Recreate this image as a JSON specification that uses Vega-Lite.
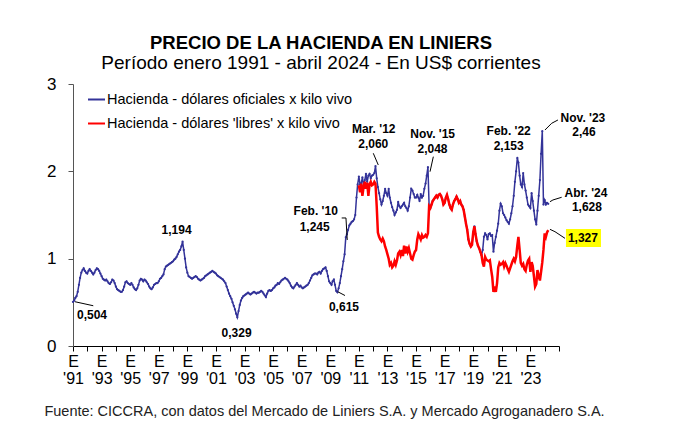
{
  "$schema": "https://vega.github.io/schema/vega-lite/v6.json",
  "autosize": "none",
  "width": 486,
  "height": 262,
  "padding": {"left": 73, "top": 84, "right": 124, "bottom": 88},
  "background": "white",
  "config": {"view": {"stroke": null}, "font": "Liberation Sans"},
  "title": {
    "text": "PRECIO DE LA HACIENDA EN LINIERS",
    "subtitle": "Período enero 1991 - abril 2024 - En US$ corrientes",
    "font": "Liberation Sans", "fontSize": 18.5, "fontWeight": "bold", "color": "#000",
    "subtitleFont": "Liberation Sans", "subtitleFontSize": 19, "subtitleColor": "#000",
    "anchor": "middle", "offset": 2, "subtitlePadding": 2, "dx": 5
  },
  "datasets": {
    "oficial": [
      {"d":"1991-01-01","v":0.504},{"d":"1991-02-01","v":0.52},{"d":"1991-03-01","v":0.55},{"d":"1991-04-01","v":0.57},{"d":"1991-05-01","v":0.62},{"d":"1991-06-01","v":0.70},{"d":"1991-07-01","v":0.78},{"d":"1991-08-01","v":0.84},{"d":"1991-09-01","v":0.87},{"d":"1991-10-01","v":0.89},{"d":"1991-11-01","v":0.86},{"d":"1991-12-01","v":0.84},
      {"d":"1992-01-01","v":0.83},{"d":"1992-02-01","v":0.86},{"d":"1992-03-01","v":0.88},{"d":"1992-04-01","v":0.86},{"d":"1992-05-01","v":0.84},{"d":"1992-06-01","v":0.82},{"d":"1992-07-01","v":0.84},{"d":"1992-08-01","v":0.87},{"d":"1992-09-01","v":0.89},{"d":"1992-10-01","v":0.88},{"d":"1992-11-01","v":0.86},{"d":"1992-12-01","v":0.83},
      {"d":"1993-01-01","v":0.80},{"d":"1993-02-01","v":0.77},{"d":"1993-03-01","v":0.76},{"d":"1993-04-01","v":0.75},{"d":"1993-05-01","v":0.76},{"d":"1993-06-01","v":0.74},{"d":"1993-07-01","v":0.72},{"d":"1993-08-01","v":0.71},{"d":"1993-09-01","v":0.73},{"d":"1993-10-01","v":0.76},{"d":"1993-11-01","v":0.75},{"d":"1993-12-01","v":0.72},
      {"d":"1994-01-01","v":0.68},{"d":"1994-02-01","v":0.65},{"d":"1994-03-01","v":0.64},{"d":"1994-04-01","v":0.63},{"d":"1994-05-01","v":0.62},{"d":"1994-06-01","v":0.62},{"d":"1994-07-01","v":0.64},{"d":"1994-08-01","v":0.68},{"d":"1994-09-01","v":0.73},{"d":"1994-10-01","v":0.74},{"d":"1994-11-01","v":0.72},{"d":"1994-12-01","v":0.71},
      {"d":"1995-01-01","v":0.70},{"d":"1995-02-01","v":0.72},{"d":"1995-03-01","v":0.70},{"d":"1995-04-01","v":0.67},{"d":"1995-05-01","v":0.65},{"d":"1995-06-01","v":0.64},{"d":"1995-07-01","v":0.66},{"d":"1995-08-01","v":0.70},{"d":"1995-09-01","v":0.75},{"d":"1995-10-01","v":0.77},{"d":"1995-11-01","v":0.76},{"d":"1995-12-01","v":0.74},
      {"d":"1996-01-01","v":0.76},{"d":"1996-02-01","v":0.75},{"d":"1996-03-01","v":0.73},{"d":"1996-04-01","v":0.71},{"d":"1996-05-01","v":0.68},{"d":"1996-06-01","v":0.66},{"d":"1996-07-01","v":0.65},{"d":"1996-08-01","v":0.67},{"d":"1996-09-01","v":0.70},{"d":"1996-10-01","v":0.71},{"d":"1996-11-01","v":0.72},{"d":"1996-12-01","v":0.72},
      {"d":"1997-01-01","v":0.74},{"d":"1997-02-01","v":0.77},{"d":"1997-03-01","v":0.78},{"d":"1997-04-01","v":0.80},{"d":"1997-05-01","v":0.82},{"d":"1997-06-01","v":0.88},{"d":"1997-07-01","v":0.91},{"d":"1997-08-01","v":0.92},{"d":"1997-09-01","v":0.93},{"d":"1997-10-01","v":0.94},{"d":"1997-11-01","v":0.95},{"d":"1997-12-01","v":0.96},
      {"d":"1998-01-01","v":0.97},{"d":"1998-02-01","v":0.99},{"d":"1998-03-01","v":1.00},{"d":"1998-04-01","v":1.02},{"d":"1998-05-01","v":1.05},{"d":"1998-06-01","v":1.08},{"d":"1998-07-01","v":1.10},{"d":"1998-08-01","v":1.14},{"d":"1998-09-01","v":1.194},{"d":"1998-10-01","v":1.10},{"d":"1998-11-01","v":1.00},{"d":"1998-12-01","v":0.90},
      {"d":"1999-01-01","v":0.84},{"d":"1999-02-01","v":0.80},{"d":"1999-03-01","v":0.79},{"d":"1999-04-01","v":0.78},{"d":"1999-05-01","v":0.77},{"d":"1999-06-01","v":0.78},{"d":"1999-07-01","v":0.79},{"d":"1999-08-01","v":0.80},{"d":"1999-09-01","v":0.79},{"d":"1999-10-01","v":0.77},{"d":"1999-11-01","v":0.76},{"d":"1999-12-01","v":0.75},
      {"d":"2000-01-01","v":0.76},{"d":"2000-02-01","v":0.77},{"d":"2000-03-01","v":0.78},{"d":"2000-04-01","v":0.80},{"d":"2000-05-01","v":0.81},{"d":"2000-06-01","v":0.82},{"d":"2000-07-01","v":0.83},{"d":"2000-08-01","v":0.84},{"d":"2000-09-01","v":0.85},{"d":"2000-10-01","v":0.86},{"d":"2000-11-01","v":0.85},{"d":"2000-12-01","v":0.84},
      {"d":"2001-01-01","v":0.83},{"d":"2001-02-01","v":0.81},{"d":"2001-03-01","v":0.80},{"d":"2001-04-01","v":0.79},{"d":"2001-05-01","v":0.78},{"d":"2001-06-01","v":0.77},{"d":"2001-07-01","v":0.76},{"d":"2001-08-01","v":0.74},{"d":"2001-09-01","v":0.72},{"d":"2001-10-01","v":0.68},{"d":"2001-11-01","v":0.64},{"d":"2001-12-01","v":0.60},
      {"d":"2002-01-01","v":0.57},{"d":"2002-02-01","v":0.54},{"d":"2002-03-01","v":0.50},{"d":"2002-04-01","v":0.46},{"d":"2002-05-01","v":0.42},{"d":"2002-06-01","v":0.37},{"d":"2002-07-01","v":0.329},{"d":"2002-08-01","v":0.40},{"d":"2002-09-01","v":0.47},{"d":"2002-10-01","v":0.52},{"d":"2002-11-01","v":0.55},{"d":"2002-12-01","v":0.57},
      {"d":"2003-01-01","v":0.58},{"d":"2003-02-01","v":0.59},{"d":"2003-03-01","v":0.60},{"d":"2003-04-01","v":0.61},{"d":"2003-05-01","v":0.60},{"d":"2003-06-01","v":0.59},{"d":"2003-07-01","v":0.60},{"d":"2003-08-01","v":0.61},{"d":"2003-09-01","v":0.62},{"d":"2003-10-01","v":0.61},{"d":"2003-11-01","v":0.60},{"d":"2003-12-01","v":0.61},
      {"d":"2004-01-01","v":0.61},{"d":"2004-02-01","v":0.62},{"d":"2004-03-01","v":0.63},{"d":"2004-04-01","v":0.62},{"d":"2004-05-01","v":0.60},{"d":"2004-06-01","v":0.58},{"d":"2004-07-01","v":0.56},{"d":"2004-08-01","v":0.60},{"d":"2004-09-01","v":0.63},{"d":"2004-10-01","v":0.64},{"d":"2004-11-01","v":0.63},{"d":"2004-12-01","v":0.64},
      {"d":"2005-01-01","v":0.66},{"d":"2005-02-01","v":0.67},{"d":"2005-03-01","v":0.69},{"d":"2005-04-01","v":0.70},{"d":"2005-05-01","v":0.72},{"d":"2005-06-01","v":0.71},{"d":"2005-07-01","v":0.73},{"d":"2005-08-01","v":0.75},{"d":"2005-09-01","v":0.76},{"d":"2005-10-01","v":0.77},{"d":"2005-11-01","v":0.78},{"d":"2005-12-01","v":0.77},
      {"d":"2006-01-01","v":0.76},{"d":"2006-02-01","v":0.74},{"d":"2006-03-01","v":0.72},{"d":"2006-04-01","v":0.69},{"d":"2006-05-01","v":0.67},{"d":"2006-06-01","v":0.66},{"d":"2006-07-01","v":0.68},{"d":"2006-08-01","v":0.70},{"d":"2006-09-01","v":0.72},{"d":"2006-10-01","v":0.70},{"d":"2006-11-01","v":0.68},{"d":"2006-12-01","v":0.69},
      {"d":"2007-01-01","v":0.67},{"d":"2007-02-01","v":0.66},{"d":"2007-03-01","v":0.67},{"d":"2007-04-01","v":0.68},{"d":"2007-05-01","v":0.69},{"d":"2007-06-01","v":0.70},{"d":"2007-07-01","v":0.72},{"d":"2007-08-01","v":0.75},{"d":"2007-09-01","v":0.78},{"d":"2007-10-01","v":0.81},{"d":"2007-11-01","v":0.82},{"d":"2007-12-01","v":0.83},
      {"d":"2008-01-01","v":0.83},{"d":"2008-02-01","v":0.82},{"d":"2008-03-01","v":0.84},{"d":"2008-04-01","v":0.85},{"d":"2008-05-01","v":0.83},{"d":"2008-06-01","v":0.86},{"d":"2008-07-01","v":0.88},{"d":"2008-08-01","v":0.89},{"d":"2008-09-01","v":0.90},{"d":"2008-10-01","v":0.86},{"d":"2008-11-01","v":0.80},{"d":"2008-12-01","v":0.74},
      {"d":"2009-01-01","v":0.72},{"d":"2009-02-01","v":0.70},{"d":"2009-03-01","v":0.74},{"d":"2009-04-01","v":0.76},{"d":"2009-05-01","v":0.70},{"d":"2009-06-01","v":0.63},{"d":"2009-07-01","v":0.615},{"d":"2009-08-01","v":0.66},{"d":"2009-09-01","v":0.72},{"d":"2009-10-01","v":0.80},{"d":"2009-11-01","v":0.88},{"d":"2009-12-01","v":0.97},
      {"d":"2010-01-01","v":1.05},{"d":"2010-02-01","v":1.245},{"d":"2010-03-01","v":1.28},{"d":"2010-04-01","v":1.33},{"d":"2010-05-01","v":1.38},{"d":"2010-06-01","v":1.40},{"d":"2010-07-01","v":1.42},{"d":"2010-08-01","v":1.43},{"d":"2010-09-01","v":1.45},{"d":"2010-10-01","v":1.50},{"d":"2010-11-01","v":1.70},{"d":"2010-12-01","v":1.85},
      {"d":"2011-01-01","v":1.94},{"d":"2011-02-01","v":1.85},{"d":"2011-03-01","v":1.86},{"d":"2011-04-01","v":1.93},{"d":"2011-05-01","v":1.84},{"d":"2011-06-01","v":1.90},{"d":"2011-07-01","v":1.97},{"d":"2011-08-01","v":1.88},{"d":"2011-09-01","v":1.95},{"d":"2011-10-01","v":1.97},{"d":"2011-11-01","v":1.92},{"d":"2011-12-01","v":1.95},
      {"d":"2012-01-01","v":1.96},{"d":"2012-02-01","v":1.98},{"d":"2012-03-01","v":2.06},{"d":"2012-04-01","v":1.92},{"d":"2012-05-01","v":1.82},{"d":"2012-06-01","v":1.75},{"d":"2012-07-01","v":1.68},{"d":"2012-08-01","v":1.62},{"d":"2012-09-01","v":1.66},{"d":"2012-10-01","v":1.72},{"d":"2012-11-01","v":1.80},{"d":"2012-12-01","v":1.75},
      {"d":"2013-01-01","v":1.72},{"d":"2013-02-01","v":1.80},{"d":"2013-03-01","v":1.70},{"d":"2013-04-01","v":1.64},{"d":"2013-05-01","v":1.59},{"d":"2013-06-01","v":1.55},{"d":"2013-07-01","v":1.50},{"d":"2013-08-01","v":1.53},{"d":"2013-09-01","v":1.56},{"d":"2013-10-01","v":1.65},{"d":"2013-11-01","v":1.60},{"d":"2013-12-01","v":1.58},
      {"d":"2014-01-01","v":1.60},{"d":"2014-02-01","v":1.62},{"d":"2014-03-01","v":1.64},{"d":"2014-04-01","v":1.60},{"d":"2014-05-01","v":1.58},{"d":"2014-06-01","v":1.55},{"d":"2014-07-01","v":1.60},{"d":"2014-08-01","v":1.70},{"d":"2014-09-01","v":1.80},{"d":"2014-10-01","v":1.78},{"d":"2014-11-01","v":1.74},{"d":"2014-12-01","v":1.70},
      {"d":"2015-01-01","v":1.70},{"d":"2015-02-01","v":1.73},{"d":"2015-03-01","v":1.70},{"d":"2015-04-01","v":1.66},{"d":"2015-05-01","v":1.74},{"d":"2015-06-01","v":1.70},{"d":"2015-07-01","v":1.72},{"d":"2015-08-01","v":1.80},{"d":"2015-09-01","v":1.86},{"d":"2015-10-01","v":1.95},{"d":"2015-11-01","v":2.048},{"d":"2015-12-01","v":1.60},
      {"d":"2016-01-01","v":1.58},{"d":"2016-02-01","v":1.62},{"d":"2016-03-01","v":1.66},{"d":"2016-04-01","v":1.68},{"d":"2016-05-01","v":1.70},{"d":"2016-06-01","v":1.72},{"d":"2016-07-01","v":1.70},{"d":"2016-08-01","v":1.73},{"d":"2016-09-01","v":1.74},{"d":"2016-10-01","v":1.72},{"d":"2016-11-01","v":1.68},{"d":"2016-12-01","v":1.62},
      {"d":"2017-01-01","v":1.64},{"d":"2017-02-01","v":1.70},{"d":"2017-03-01","v":1.73},{"d":"2017-04-01","v":1.68},{"d":"2017-05-01","v":1.62},{"d":"2017-06-01","v":1.58},{"d":"2017-07-01","v":1.56},{"d":"2017-08-01","v":1.62},{"d":"2017-09-01","v":1.66},{"d":"2017-10-01","v":1.68},{"d":"2017-11-01","v":1.71},{"d":"2017-12-01","v":1.68},
      {"d":"2018-01-01","v":1.64},{"d":"2018-02-01","v":1.66},{"d":"2018-03-01","v":1.62},{"d":"2018-04-01","v":1.60},{"d":"2018-05-01","v":1.56},{"d":"2018-06-01","v":1.48},{"d":"2018-07-01","v":1.40},{"d":"2018-08-01","v":1.33},{"d":"2018-09-01","v":1.22},{"d":"2018-10-01","v":1.17},{"d":"2018-11-01","v":1.14},{"d":"2018-12-01","v":1.16},
      {"d":"2019-01-01","v":1.30},{"d":"2019-02-01","v":1.37},{"d":"2019-03-01","v":1.28},{"d":"2019-04-01","v":1.20},{"d":"2019-05-01","v":1.15},{"d":"2019-06-01","v":1.12},{"d":"2019-07-01","v":1.08},{"d":"2019-08-01","v":1.04},{"d":"2019-09-01","v":1.10},{"d":"2019-10-01","v":1.25},{"d":"2019-11-01","v":1.29},{"d":"2019-12-01","v":1.27},
      {"d":"2020-01-01","v":1.22},{"d":"2020-02-01","v":1.28},{"d":"2020-03-01","v":1.29},{"d":"2020-04-01","v":1.26},{"d":"2020-05-01","v":1.27},{"d":"2020-06-01","v":1.08},{"d":"2020-07-01","v":1.18},{"d":"2020-08-01","v":1.25},{"d":"2020-09-01","v":1.32},{"d":"2020-10-01","v":1.40},{"d":"2020-11-01","v":1.55},{"d":"2020-12-01","v":1.63},
      {"d":"2021-01-01","v":1.60},{"d":"2021-02-01","v":1.52},{"d":"2021-03-01","v":1.50},{"d":"2021-04-01","v":1.47},{"d":"2021-05-01","v":1.44},{"d":"2021-06-01","v":1.42},{"d":"2021-07-01","v":1.40},{"d":"2021-08-01","v":1.45},{"d":"2021-09-01","v":1.52},{"d":"2021-10-01","v":1.60},{"d":"2021-11-01","v":1.72},{"d":"2021-12-01","v":1.88},
      {"d":"2022-01-01","v":2.00},{"d":"2022-02-01","v":2.153},{"d":"2022-03-01","v":2.10},{"d":"2022-04-01","v":1.95},{"d":"2022-05-01","v":1.85},{"d":"2022-06-01","v":1.82},{"d":"2022-07-01","v":1.98},{"d":"2022-08-01","v":1.85},{"d":"2022-09-01","v":1.78},{"d":"2022-10-01","v":1.70},{"d":"2022-11-01","v":1.62},{"d":"2022-12-01","v":1.60},
      {"d":"2023-01-01","v":1.58},{"d":"2023-02-01","v":1.75},{"d":"2023-03-01","v":1.66},{"d":"2023-04-01","v":1.55},{"d":"2023-05-01","v":1.45},{"d":"2023-06-01","v":1.39},{"d":"2023-07-01","v":1.55},{"d":"2023-08-01","v":1.72},{"d":"2023-09-01","v":1.90},{"d":"2023-10-01","v":2.20},{"d":"2023-11-01","v":2.46},{"d":"2023-12-01","v":1.62},
      {"d":"2024-01-01","v":1.67},{"d":"2024-02-01","v":1.62},{"d":"2024-03-01","v":1.64},{"d":"2024-04-01","v":1.628}
    ],
    "libre": [
      {"d":"2011-01-01","v":1.84},{"d":"2011-02-01","v":1.76},{"d":"2011-03-01","v":1.86},{"d":"2011-04-01","v":1.72},{"d":"2011-05-01","v":1.82},{"d":"2011-06-01","v":1.88},{"d":"2011-07-01","v":1.80},{"d":"2011-08-01","v":1.87},{"d":"2011-09-01","v":1.72},{"d":"2011-10-01","v":1.85},{"d":"2011-11-01","v":1.88},{"d":"2011-12-01","v":1.84},
      {"d":"2012-01-01","v":1.85},{"d":"2012-02-01","v":1.88},{"d":"2012-03-01","v":1.86},{"d":"2012-04-01","v":1.60},{"d":"2012-05-01","v":1.30},{"d":"2012-06-01","v":1.25},{"d":"2012-07-01","v":1.22},{"d":"2012-08-01","v":1.20},{"d":"2012-09-01","v":1.23},{"d":"2012-10-01","v":1.20},{"d":"2012-11-01","v":1.14},{"d":"2012-12-01","v":1.10},
      {"d":"2013-01-01","v":1.05},{"d":"2013-02-01","v":1.00},{"d":"2013-03-01","v":0.93},{"d":"2013-04-01","v":0.95},{"d":"2013-05-01","v":0.90},{"d":"2013-06-01","v":0.92},{"d":"2013-07-01","v":0.97},{"d":"2013-08-01","v":0.93},{"d":"2013-09-01","v":0.98},{"d":"2013-10-01","v":1.06},{"d":"2013-11-01","v":1.08},{"d":"2013-12-01","v":1.04},
      {"d":"2014-01-01","v":1.10},{"d":"2014-02-01","v":1.03},{"d":"2014-03-01","v":1.15},{"d":"2014-04-01","v":1.06},{"d":"2014-05-01","v":1.14},{"d":"2014-06-01","v":1.08},{"d":"2014-07-01","v":1.12},{"d":"2014-08-01","v":1.06},{"d":"2014-09-01","v":1.00},{"d":"2014-10-01","v":0.99},{"d":"2014-11-01","v":1.04},{"d":"2014-12-01","v":1.08},
      {"d":"2015-01-01","v":1.10},{"d":"2015-02-01","v":1.22},{"d":"2015-03-01","v":1.28},{"d":"2015-04-01","v":1.25},{"d":"2015-05-01","v":1.22},{"d":"2015-06-01","v":1.27},{"d":"2015-07-01","v":1.24},{"d":"2015-08-01","v":1.25},{"d":"2015-09-01","v":1.27},{"d":"2015-10-01","v":1.25},{"d":"2015-11-01","v":1.29},{"d":"2015-12-01","v":1.60},
      {"d":"2016-01-01","v":1.58},{"d":"2016-02-01","v":1.62},{"d":"2016-03-01","v":1.66},{"d":"2016-04-01","v":1.68},{"d":"2016-05-01","v":1.70},{"d":"2016-06-01","v":1.72},{"d":"2016-07-01","v":1.70},{"d":"2016-08-01","v":1.73},{"d":"2016-09-01","v":1.74},{"d":"2016-10-01","v":1.72},{"d":"2016-11-01","v":1.68},{"d":"2016-12-01","v":1.62},
      {"d":"2017-01-01","v":1.64},{"d":"2017-02-01","v":1.70},{"d":"2017-03-01","v":1.73},{"d":"2017-04-01","v":1.68},{"d":"2017-05-01","v":1.62},{"d":"2017-06-01","v":1.58},{"d":"2017-07-01","v":1.56},{"d":"2017-08-01","v":1.62},{"d":"2017-09-01","v":1.66},{"d":"2017-10-01","v":1.68},{"d":"2017-11-01","v":1.71},{"d":"2017-12-01","v":1.68},
      {"d":"2018-01-01","v":1.64},{"d":"2018-02-01","v":1.66},{"d":"2018-03-01","v":1.62},{"d":"2018-04-01","v":1.60},{"d":"2018-05-01","v":1.56},{"d":"2018-06-01","v":1.48},{"d":"2018-07-01","v":1.40},{"d":"2018-08-01","v":1.33},{"d":"2018-09-01","v":1.22},{"d":"2018-10-01","v":1.17},{"d":"2018-11-01","v":1.14},{"d":"2018-12-01","v":1.16},
      {"d":"2019-01-01","v":1.30},{"d":"2019-02-01","v":1.37},{"d":"2019-03-01","v":1.28},{"d":"2019-04-01","v":1.20},{"d":"2019-05-01","v":1.15},{"d":"2019-06-01","v":1.12},{"d":"2019-07-01","v":1.08},{"d":"2019-08-01","v":1.04},{"d":"2019-09-01","v":0.95},{"d":"2019-10-01","v":0.91},{"d":"2019-11-01","v":1.02},{"d":"2019-12-01","v":0.99},
      {"d":"2020-01-01","v":0.98},{"d":"2020-02-01","v":0.97},{"d":"2020-03-01","v":0.98},{"d":"2020-04-01","v":0.88},{"d":"2020-05-01","v":0.79},{"d":"2020-06-01","v":0.62},{"d":"2020-07-01","v":0.68},{"d":"2020-08-01","v":0.62},{"d":"2020-09-01","v":0.72},{"d":"2020-10-01","v":0.90},{"d":"2020-11-01","v":0.95},{"d":"2020-12-01","v":0.93},
      {"d":"2021-01-01","v":0.94},{"d":"2021-02-01","v":0.96},{"d":"2021-03-01","v":0.91},{"d":"2021-04-01","v":0.95},{"d":"2021-05-01","v":0.92},{"d":"2021-06-01","v":0.88},{"d":"2021-07-01","v":0.85},{"d":"2021-08-01","v":0.89},{"d":"2021-09-01","v":0.93},{"d":"2021-10-01","v":0.97},{"d":"2021-11-01","v":1.00},{"d":"2021-12-01","v":0.97},
      {"d":"2022-01-01","v":1.02},{"d":"2022-02-01","v":1.15},{"d":"2022-03-01","v":1.25},{"d":"2022-04-01","v":1.10},{"d":"2022-05-01","v":0.95},{"d":"2022-06-01","v":0.92},{"d":"2022-07-01","v":0.94},{"d":"2022-08-01","v":0.88},{"d":"2022-09-01","v":0.86},{"d":"2022-10-01","v":0.93},{"d":"2022-11-01","v":0.98},{"d":"2022-12-01","v":1.00},
      {"d":"2023-01-01","v":0.85},{"d":"2023-02-01","v":0.96},{"d":"2023-03-01","v":0.92},{"d":"2023-04-01","v":0.80},{"d":"2023-05-01","v":0.68},{"d":"2023-06-01","v":0.71},{"d":"2023-07-01","v":0.87},{"d":"2023-08-01","v":0.80},{"d":"2023-09-01","v":0.75},{"d":"2023-10-01","v":0.85},{"d":"2023-11-01","v":0.96},{"d":"2023-12-01","v":1.10},
      {"d":"2024-01-01","v":1.29},{"d":"2024-02-01","v":1.25},{"d":"2024-03-01","v":1.30},{"d":"2024-04-01","v":1.327}
    ],
    "ann": [
      {"d":"1992-05-01","v":0.355,"txt":"0,504"},
      {"d":"1998-04-01","v":1.328,"txt":"1,194"},
      {"d":"2002-06-13","v":0.149,"txt":"0,329"},
      {"d":"2007-12-25","v":1.546,"txt":"Feb. '10"},
      {"d":"2007-11-28","v":1.366,"txt":"1,245"},
      {"d":"2009-12-16","v":0.447,"txt":"0,615"},
      {"d":"2012-01-15","v":2.485,"txt":"Mar. '12"},
      {"d":"2012-01-04","v":2.313,"txt":"2,060"},
      {"d":"2016-03-01","v":2.428,"txt":"Nov. '15"},
      {"d":"2016-02-26","v":2.256,"txt":"2,048"},
      {"d":"2021-06-25","v":2.462,"txt":"Feb. '22"},
      {"d":"2021-06-25","v":2.29,"txt":"2,153"},
      {"d":"2026-09-05","v":2.611,"txt":"Nov. '23"},
      {"d":"2026-10-01","v":2.45,"txt":"2,46"},
      {"d":"2026-11-20","v":1.752,"txt":"Abr. '24"},
      {"d":"2026-12-16","v":1.592,"txt":"1,628"},
      {"d":"2026-09-05","v":1.237,"txt":"1,327"}
    ],
    "lead": [
      {"d":"1991-02-20","v":0.507,"g":"a"},{"d":"1992-06-02","v":0.461,"g":"a"},
      {"d":"2009-10-19","v":1.466,"g":"b"},{"d":"2010-02-05","v":1.466,"g":"b"},{"d":"2010-03-10","v":1.214,"g":"b"},
      {"d":"2009-07-09","v":0.622,"g":"c"},{"d":"2010-01-11","v":0.578,"g":"c"},
      {"d":"2012-01-04","v":2.207,"g":"d"},{"d":"2012-05-11","v":2.073,"g":"d"},
      {"d":"2015-12-24","v":1.996,"g":"e"},{"d":"2016-03-18","v":2.168,"g":"e"},
      {"d":"2024-01-08","v":2.473,"g":"f"},{"d":"2024-06-27","v":2.55,"g":"f"},{"d":"2024-12-05","v":2.588,"g":"f"},
      {"d":"2024-05-15","v":1.652,"g":"g"},{"d":"2024-07-30","v":1.672,"g":"g"},{"d":"2025-03-10","v":1.703,"g":"g"},
      {"d":"2024-05-15","v":1.336,"g":"h"},{"d":"2024-09-20","v":1.309,"g":"h"},{"d":"2025-06-03","v":1.233,"g":"h"}
    ],
    "box": [
      {"d":"2025-06-28","d2":"2027-12-10","v":1.34,"v2":1.134}
    ]
  },
  "encoding": {
    "x": {
      "field": "d", "type": "temporal",
      "scale": {"domain": ["1991-01-01", "2025-01-01"], "nice": false},
      "axis": {
        "tickCount": {"interval": "year", "step": 1},
        "labelExpr": "(year(datum.value) % 2 == 1 && year(datum.value) < 2024) ? ['E', \"'\" + timeFormat(datum.value, '%y')] : ''",
        "labelOverlap": false, "labelFlush": false, "labelBound": false,
        "labelFont": "Liberation Sans", "labelFontSize": 16, "labelLineHeight": 17, "labelColor": "#000",
        "labelPadding": 2, "tickSize": 5, "tickColor": "#000", "domainColor": "#000", "grid": false,
        "title": "Fuente: CICCRA, con datos del Mercado de Liniers S.A. y Mercado Agroganadero S.A.",
        "titleFont": "Liberation Sans", "titleFontSize": 14.5, "titleFontWeight": "normal", "titleColor": "#222",
        "titlePadding": 18, "titleX": 251, "titleAnchor": "middle"
      }
    },
    "y": {
      "field": "v", "type": "quantitative",
      "scale": {"domain": [0, 3], "nice": false, "zero": false},
      "axis": {
        "values": [0, 1, 2, 3], "grid": false, "title": null,
        "labelFont": "Liberation Sans", "labelFontSize": 17, "labelColor": "#000", "labelPadding": 12,
        "tickSize": 5, "tickColor": "#555", "domainColor": "#555"
      }
    }
  },
  "layer": [
    {
      "data": {"name": "oficial"},
      "mark": {"type": "line", "strokeWidth": 1.5, "point": {"filled": true, "size": 5}},
      "encoding": {
        "color": {
          "datum": "Hacienda - dólares oficiales x kilo vivo",
          "scale": {
            "domain": ["Hacienda - dólares oficiales x kilo vivo", "Hacienda - dólares 'libres' x kilo vivo"],
            "range": ["#333399", "#ff0000"]
          },
          "legend": {
            "orient": "none", "legendX": 14, "legendY": 6, "title": null, "padding": 0,
            "symbolType": "stroke", "symbolSize": 289, "symbolStrokeWidth": 2,
            "labelFont": "Liberation Sans", "labelFontSize": 14.5, "labelColor": "#000", "labelLimit": 400,
            "rowPadding": 8, "labelOffset": 1
          }
        }
      }
    },
    {
      "data": {"name": "libre"},
      "mark": {"type": "line", "strokeWidth": 2.5},
      "encoding": {
        "color": {"datum": "Hacienda - dólares 'libres' x kilo vivo"}
      }
    },
    {
      "data": {"name": "lead"},
      "mark": {"type": "line", "strokeWidth": 1, "color": "#000"},
      "encoding": {"detail": {"field": "g"}}
    },
    {
      "data": {"name": "box"},
      "mark": {"type": "rect", "color": "#ffff00"},
      "encoding": {"x2": {"field": "d2"}, "y2": {"field": "v2"}}
    },
    {
      "data": {"name": "ann"},
      "mark": {"type": "text", "font": "Liberation Sans", "fontSize": 12, "fontWeight": "bold", "color": "#000", "align": "center", "baseline": "middle"},
      "encoding": {"text": {"field": "txt"}}
    }
  ]
}
